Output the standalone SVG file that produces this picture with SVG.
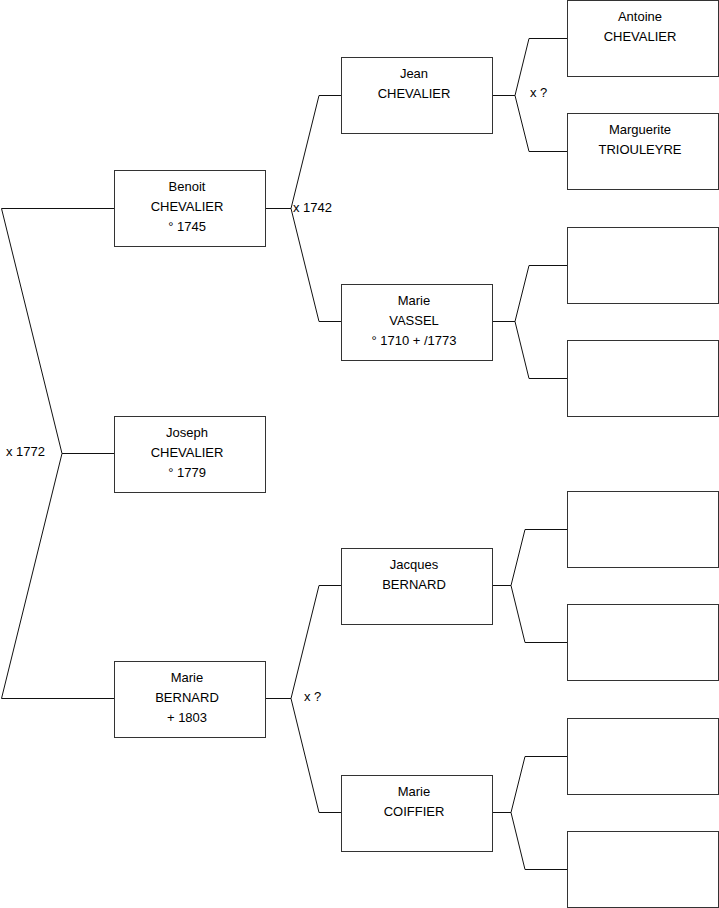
<svg xmlns="http://www.w3.org/2000/svg" width="719" height="908" viewBox="0 0 719 908">
<style>
.box{fill:#fff;stroke:#333;stroke-width:1}
.ln{fill:none;stroke:#111;stroke-width:1}
text{font-family:"Liberation Sans",Arial,sans-serif;font-size:13px;fill:#000}
.c{text-anchor:middle}
</style>
<rect width="719" height="908" fill="#fff"/>
<g id="connectors">
<path class="ln" d="M114,208.5 H1.5 L62,453.5 L1.5,698.5 H114 M62,453.5 H114"/>
<path class="ln" d="M265,208.5 H291 L319,95.5 H341 M291,208.5 L319,321.5 H341"/>
<path class="ln" d="M265,698.5 H291 L319,585.5 H341 M291,698.5 L319,812.5 H341"/>
<path class="ln" d="M492,95.5 H515 L529,38.5 H567 M515,95.5 L529,151.5 H567"/>
<path class="ln" d="M492,321.5 H515 L529,265.5 H567 M515,321.5 L529,378.5 H567"/>
<path class="ln" d="M492,585.5 H511 L525,529.5 H567 M511,585.5 L525,642.5 H567"/>
<path class="ln" d="M492,812.5 H511 L525,756.5 H567 M511,812.5 L525,869.5 H567"/>
<text x="293" y="212">x 1742</text>
<text x="530" y="97">x ?</text>
<text x="6" y="456">x 1772</text>
<text x="304" y="701">x ?</text>
</g>
<g id="benoit"><rect class="box" x="114.5" y="170.5" width="151" height="76"/><text class="c" x="187" y="190.5">Benoit</text><text class="c" x="187" y="210.5">CHEVALIER</text><text class="c" x="187" y="230.5">° 1745</text></g>
<g id="joseph"><rect class="box" x="114.5" y="416.5" width="151" height="76"/><text class="c" x="187" y="436.5">Joseph</text><text class="c" x="187" y="456.5">CHEVALIER</text><text class="c" x="187" y="476.5">° 1779</text></g>
<g id="marie-bernard"><rect class="box" x="114.5" y="661.5" width="151" height="76"/><text class="c" x="187" y="681.5">Marie</text><text class="c" x="187" y="701.5">BERNARD</text><text class="c" x="187" y="721.5">+ 1803</text></g>
<g id="jean"><rect class="box" x="341.5" y="57.5" width="151" height="76"/><text class="c" x="414" y="77.5">Jean</text><text class="c" x="414" y="97.5">CHEVALIER</text></g>
<g id="marie-vassel"><rect class="box" x="341.5" y="284.5" width="151" height="76"/><text class="c" x="414" y="304.5">Marie</text><text class="c" x="414" y="324.5">VASSEL</text><text class="c" x="414" y="344.5">° 1710 + /1773</text></g>
<g id="jacques"><rect class="box" x="341.5" y="548.5" width="151" height="76"/><text class="c" x="414" y="568.5">Jacques</text><text class="c" x="414" y="588.5">BERNARD</text></g>
<g id="marie-coiffier"><rect class="box" x="341.5" y="775.5" width="151" height="76"/><text class="c" x="414" y="795.5">Marie</text><text class="c" x="414" y="815.5">COIFFIER</text></g>
<g id="antoine"><rect class="box" x="567.5" y="0.5" width="151" height="76"/><text class="c" x="640" y="20.5">Antoine</text><text class="c" x="640" y="40.5">CHEVALIER</text></g>
<g id="marguerite"><rect class="box" x="567.5" y="113.5" width="151" height="76"/><text class="c" x="640" y="133.5">Marguerite</text><text class="c" x="640" y="153.5">TRIOULEYRE</text></g>
<g id="p3"><rect class="box" x="567.5" y="227.5" width="151" height="76"/></g>
<g id="p4"><rect class="box" x="567.5" y="340.5" width="151" height="76"/></g>
<g id="p5"><rect class="box" x="567.5" y="491.5" width="151" height="76"/></g>
<g id="p6"><rect class="box" x="567.5" y="604.5" width="151" height="76"/></g>
<g id="p7"><rect class="box" x="567.5" y="718.5" width="151" height="76"/></g>
<g id="p8"><rect class="box" x="567.5" y="831.5" width="151" height="76"/></g>
</svg>
